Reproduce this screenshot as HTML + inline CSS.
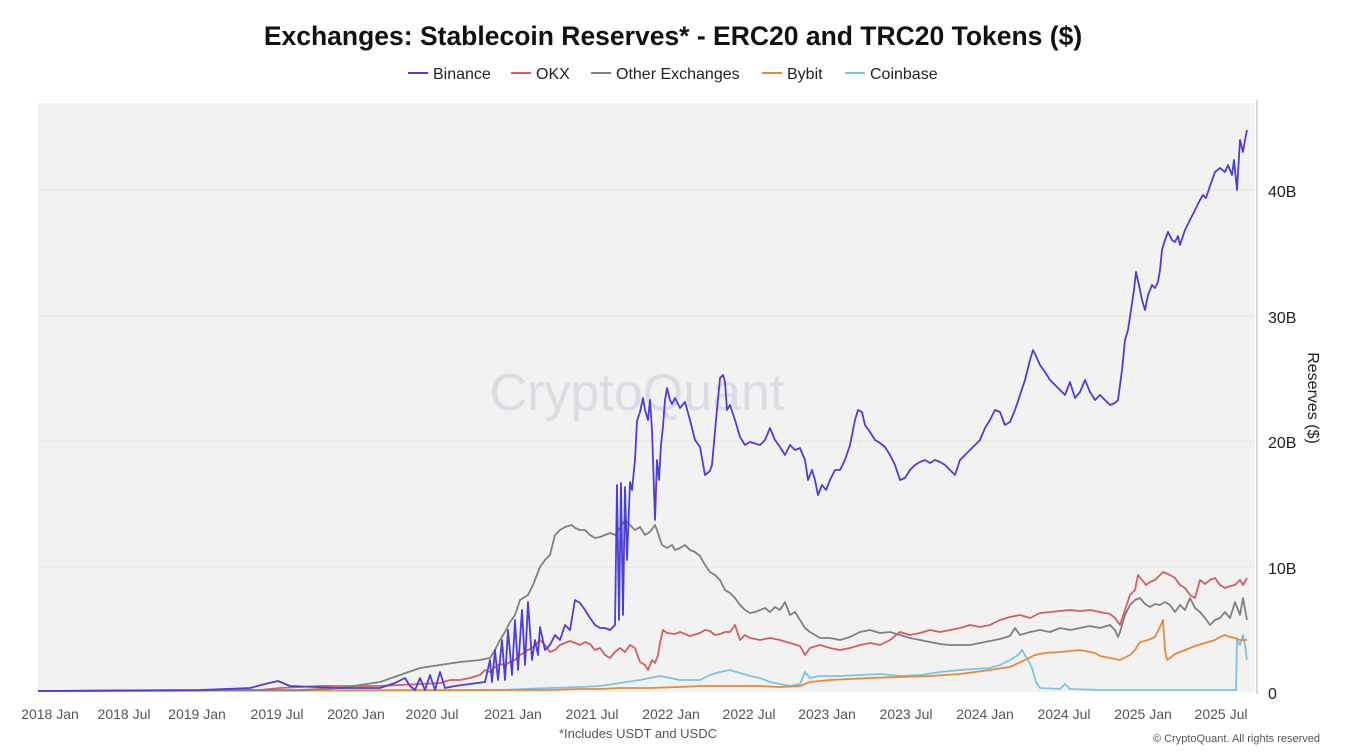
<!DOCTYPE html>
<html><head><meta charset="utf-8"><style>
html,body{margin:0;padding:0;background:#fff;}
svg{display:block;font-family:"Liberation Sans",sans-serif;}
</style></head><body>
<svg width="1346" height="754" viewBox="0 0 1346 754">
<rect x="38" y="103" width="1217" height="589" fill="#f2f2f2"/>
<g stroke="#e6e6e6" stroke-width="1">
<line x1="38" x2="1255" y1="567" y2="567"/><line x1="38" x2="1255" y1="441" y2="441"/>
<line x1="38" x2="1255" y1="316" y2="316"/><line x1="38" x2="1255" y1="190" y2="190"/>
</g>
<line x1="1257" x2="1257" y1="100" y2="694" stroke="#d8d8e0" stroke-width="2"/>
<text x="637" y="410" font-size="52" fill="#dcdce4" text-anchor="middle">CryptoQuant</text>
<text x="673" y="45" font-size="26.5" font-weight="bold" text-anchor="middle" fill="#111">Exchanges: Stablecoin Reserves* - ERC20 and TRC20 Tokens ($)</text>
<g font-size="16" fill="#222">
<line x1="408" x2="428" y1="73" y2="73" stroke="#4b3fd6" stroke-width="2"/><text x="433" y="79">Binance</text>
<line x1="511" x2="531" y1="73" y2="73" stroke="#d45f5f" stroke-width="2"/><text x="536" y="79">OKX</text>
<line x1="591" x2="611" y1="73" y2="73" stroke="#808080" stroke-width="2"/><text x="616" y="79">Other Exchanges</text>
<line x1="762" x2="782" y1="73" y2="73" stroke="#e8893a" stroke-width="2"/><text x="787" y="79">Bybit</text>
<line x1="845" x2="865" y1="73" y2="73" stroke="#7cc4e0" stroke-width="2"/><text x="870" y="79">Coinbase</text>
</g>
<g font-size="16" fill="#222">
<text x="1268" y="197">40B</text><text x="1268" y="323">30B</text><text x="1268" y="448">20B</text>
<text x="1268" y="574">10B</text><text x="1268" y="699">0</text>
</g>
<text transform="translate(1308,398) rotate(90)" font-size="16" fill="#222" text-anchor="middle">Reserves ($)</text>
<g font-size="14" fill="#555" text-anchor="middle">
<text x="50" y="719">2018 Jan</text><text x="124" y="719">2018 Jul</text><text x="197" y="719">2019 Jan</text><text x="277" y="719">2019 Jul</text>
<text x="356" y="719">2020 Jan</text><text x="432" y="719">2020 Jul</text><text x="513" y="719">2021 Jan</text><text x="592" y="719">2021 Jul</text>
<text x="671" y="719">2022 Jan</text><text x="749" y="719">2022 Jul</text><text x="827" y="719">2023 Jan</text><text x="906" y="719">2023 Jul</text>
<text x="985" y="719">2024 Jan</text><text x="1064" y="719">2024 Jul</text><text x="1143" y="719">2025 Jan</text><text x="1221" y="719">2025 Jul</text>
</g>
<text x="638" y="738" font-size="13" fill="#555" text-anchor="middle">*Includes USDT and USDC</text>
<text x="1320" y="742" font-size="11" fill="#555" text-anchor="end">© CryptoQuant. All rights reserved</text>
<g fill="none" stroke-width="1.8" stroke-linejoin="round">
<polyline stroke="#7cc4e0" points="38,691 500,690 550,688 580,687 600,686 620,683 640,680 650,678 660,676 670,678 680,680 700,680 710,675 720,672 730,670 740,673 750,676 760,678 770,682 780,684 790,686 800,684 805,672 810,678 820,676 840,676 860,675 880,674 900,676 920,675 940,672 960,670 990,668 1000,665 1010,660 1018,655 1022,650 1028,660 1032,668 1036,682 1040,688 1060,689 1065,684 1070,689 1100,690 1200,690 1236,690 1237,640 1240,645 1243,635 1245,645 1247,660"/>
<polyline stroke="#e8893a" points="38,691 500,690 550,690 580,689 600,689 620,688 650,688 680,687 700,686 720,686 740,686 760,686 780,687 800,686 810,682 830,680 850,679 870,678 900,677 930,676 960,674 990,670 1010,667 1025,660 1035,655 1045,653 1060,652 1080,650 1095,653 1100,656 1110,658 1120,660 1130,655 1135,650 1140,642 1148,640 1155,637 1160,627 1163,620 1165,650 1167,660 1170,658 1175,654 1185,650 1195,646 1205,643 1215,640 1220,637 1225,635 1230,637 1235,638 1240,640 1247,640"/>
<polyline stroke="#d45f5f" points="38,691 260,690 280,688 300,687 320,686 350,686 380,686 400,685 420,684 440,683 450,680 460,680 470,678 480,675 485,670 490,672 495,667 500,664 505,665 510,662 515,660 520,655 528,650 535,646 540,640 545,645 550,652 555,650 560,645 565,643 570,641 575,643 580,645 585,642 590,644 595,650 600,648 605,655 610,658 615,652 620,648 625,652 630,645 635,648 640,662 645,665 648,670 652,660 655,663 658,655 660,643 663,630 667,633 675,634 680,632 690,636 700,633 705,630 710,631 715,635 720,634 725,632 730,632 735,625 740,640 745,635 750,638 760,640 770,638 780,640 790,643 800,646 805,655 810,648 820,645 830,648 840,650 850,648 860,645 870,643 880,645 890,640 900,632 910,635 920,633 930,630 940,632 950,630 960,628 970,625 980,627 990,625 1000,620 1010,617 1020,615 1030,618 1040,613 1050,612 1060,611 1070,610 1080,611 1090,610 1100,612 1110,614 1115,618 1120,625 1125,610 1130,595 1135,590 1138,575 1142,580 1146,585 1150,582 1155,580 1160,575 1163,572 1170,575 1175,578 1180,585 1185,588 1190,595 1195,598 1200,580 1205,584 1210,580 1215,578 1220,585 1225,588 1230,586 1235,585 1240,580 1243,585 1247,578"/>
<polyline stroke="#808080" points="38,691 300,690 340,688 380,682 400,675 420,668 440,665 460,662 480,660 490,658 495,650 500,640 505,632 510,622 515,615 520,600 528,595 533,585 540,567 545,560 550,555 555,535 560,530 565,527 572,525 575,528 580,530 585,530 590,535 595,538 600,537 605,535 610,533 615,535 620,528 625,520 630,525 635,530 640,527 645,535 650,532 655,525 658,533 662,545 667,548 672,545 675,550 680,548 685,545 690,550 695,552 700,556 705,565 710,572 715,575 720,580 725,590 730,593 735,598 740,605 745,610 750,613 755,612 760,610 765,608 770,612 775,607 780,610 785,602 790,615 795,612 800,620 805,628 810,632 815,635 820,638 830,638 840,640 850,637 860,632 870,630 880,633 890,632 900,635 910,638 920,640 930,642 940,644 950,645 960,645 970,645 980,643 990,641 1000,639 1010,636 1015,628 1020,635 1030,632 1040,630 1050,632 1060,628 1070,630 1080,628 1090,626 1100,628 1110,625 1115,630 1118,637 1120,632 1125,615 1130,605 1135,600 1140,598 1145,604 1150,607 1155,604 1160,605 1165,602 1170,605 1175,612 1180,605 1185,610 1190,598 1195,608 1200,612 1205,618 1210,625 1215,620 1220,618 1225,612 1230,618 1235,602 1240,615 1243,598 1247,620"/>
<polyline stroke="#4b3fd6" points="38,691 200,690 250,688 265,684 278,681 290,686 340,688 380,688 395,683 405,678 410,686 415,690 420,678 425,690 430,675 435,690 440,672 445,688 455,686 470,684 485,682 490,660 492,682 495,650 498,680 502,640 505,680 508,630 512,675 515,620 518,670 522,610 525,665 528,602 532,660 535,640 538,655 540,627 545,650 550,645 555,635 560,640 565,625 570,630 575,600 580,603 585,610 590,618 595,625 600,628 605,628 610,630 615,625 617,485 619,620 621,483 623,615 625,487 627,560 630,482 632,490 635,460 637,421 640,412 643,398 645,410 648,420 650,400 652,430 655,520 657,460 659,480 661,445 663,426 665,400 667,388 670,400 672,404 675,398 680,408 685,402 690,420 695,440 700,447 705,475 710,471 712,465 716,420 720,378 723,375 725,382 727,410 730,405 735,420 740,437 745,445 750,442 760,445 765,440 770,428 775,440 780,447 785,455 790,445 795,450 800,448 805,460 808,480 812,470 815,480 818,495 822,485 826,490 830,480 835,470 840,470 845,460 850,445 855,420 858,410 862,412 865,425 870,432 875,440 880,443 885,447 890,455 895,465 900,480 905,478 910,470 915,465 920,462 925,460 930,463 935,460 940,462 945,465 950,470 955,475 960,460 965,455 970,450 975,445 980,440 985,428 990,420 995,410 1000,412 1005,425 1010,422 1015,410 1020,395 1025,380 1030,360 1033,350 1036,356 1040,365 1045,372 1050,380 1055,385 1060,390 1065,395 1070,382 1075,398 1080,392 1085,380 1090,392 1095,400 1100,395 1105,400 1110,405 1115,403 1118,400 1122,370 1125,340 1128,330 1131,310 1134,290 1136,272 1140,290 1142,300 1145,310 1148,295 1152,285 1155,288 1158,282 1160,270 1162,250 1165,240 1168,232 1172,240 1175,242 1178,236 1180,245 1185,230 1190,220 1195,210 1200,200 1203,195 1206,198 1210,186 1215,172 1220,168 1225,172 1228,165 1232,175 1234,160 1237,190 1240,140 1243,152 1245,140 1247,130"/>
</g>
</svg>
</body></html>
